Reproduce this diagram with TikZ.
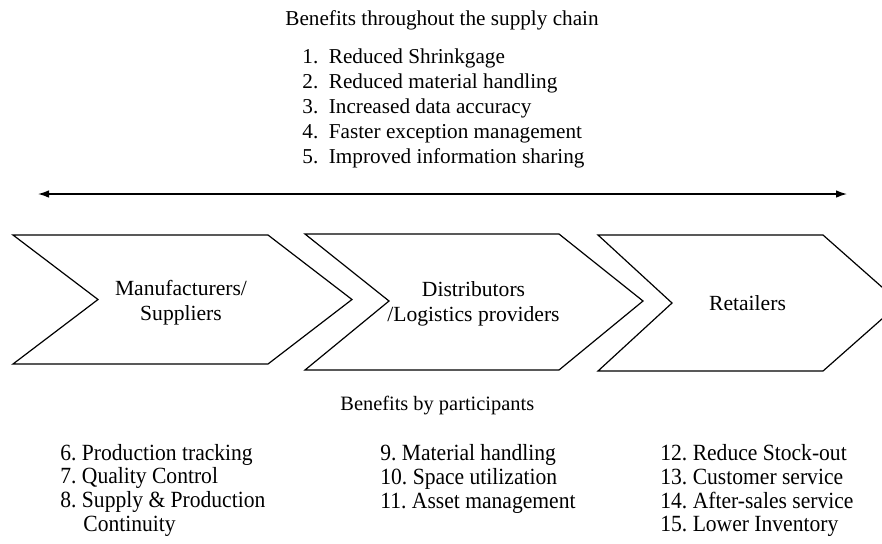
\documentclass[tikz,border=0pt]{standalone}
\usepackage{fontspec}
\setmainfont{Liberation Serif}
\newfontfamily\partfont[FakeStretch=0.93]{Liberation Serif}
\usetikzlibrary{arrows.meta}
\frenchspacing
\begin{document}
\begin{tikzpicture}[x=0.5pt,y=-0.5pt,
    item/.style={anchor=base west,inner sep=0pt,font=\fontsize{10.6}{12}\selectfont},
    part/.style={anchor=base west,inner sep=0pt,font=\partfont\fontsize{11.6}{12}\selectfont},
    actor/.style={align=center,inner sep=0pt,font=\fontsize{10.8}{12.5}\selectfont},
    chev/.style={draw,line width=0.6pt,line join=miter}]
  \useasboundingbox (0,0) rectangle (882,543);
  \clip (0,0) rectangle (882,543);

  % benefits throughout the chain
  \node[item] (title) at (285,25) {Benefits throughout the supply chain};
  \node[item] (b1) at (302,63) {1.\ \ Reduced Shrinkgage};
  \node[item] (b2) at (302,88) {2.\ \ Reduced material handling};
  \node[item] (b3) at (302,113) {3.\ \ Increased data accuracy};
  \node[item] (b4) at (302,138) {4.\ \ Faster exception management};
  \node[item] (b5) at (302,163) {5.\ \ Improved information sharing};

  \coordinate (west) at (38,194);
  \coordinate (east) at (847,194);
  \draw[{Latex[length=5.5pt,width=3.8pt]}-{Latex[length=5.5pt,width=3.8pt]},line width=0.7pt]
    (west) -- (east);

  % chevrons
  \draw[chev] (13,235) -- (268,235) -- (352,299.5) -- (268,364) -- (13,364) -- (98,299.5) -- cycle;
  \draw[chev] (305,234) -- (559,234) -- (643,301) -- (559,370) -- (305,370) -- (389,301) -- cycle;
  \draw[chev] (598,235) -- (823,235) -- (900,303) -- (823,371) -- (598,371) -- (672,303) -- cycle;
  \node[actor] (manu) at (181,302.5) {Manufacturers/\\Suppliers};
  \node[actor] (dist) at (473.5,304) {Distributors\\/Logistics providers};
  \node[actor,anchor=base] (retail) at (747.5,310) {Retailers};

  % benefits by participants
  \node[item,font=\fontsize{10.2}{12}\selectfont] (heading) at (340,410.7) {Benefits by participants};
  \node[part] (p6) at (60,460) {6. Production tracking};
  \node[part] (p7) at (60,483.5) {7. Quality Control};
  \node[part] (p8) at (60,507.5) {8. Supply \& Production};
  \node[part] (p8b) at (83,531) {Continuity};
  \node[part] (p9) at (380,460.5) {9. Material handling};
  \node[part] (p10) at (380,484.5) {10. Space utilization};
  \node[part] (p11) at (380,508) {11. Asset management};
  \node[part] (p12) at (660,460.5) {12. Reduce Stock-out};
  \node[part] (p13) at (660,484.5) {13. Customer service};
  \node[part] (p14) at (660,508) {14. After-sales service};
  \node[part] (p15) at (660,531.5) {15. Lower Inventory};
\end{tikzpicture}
\end{document}
